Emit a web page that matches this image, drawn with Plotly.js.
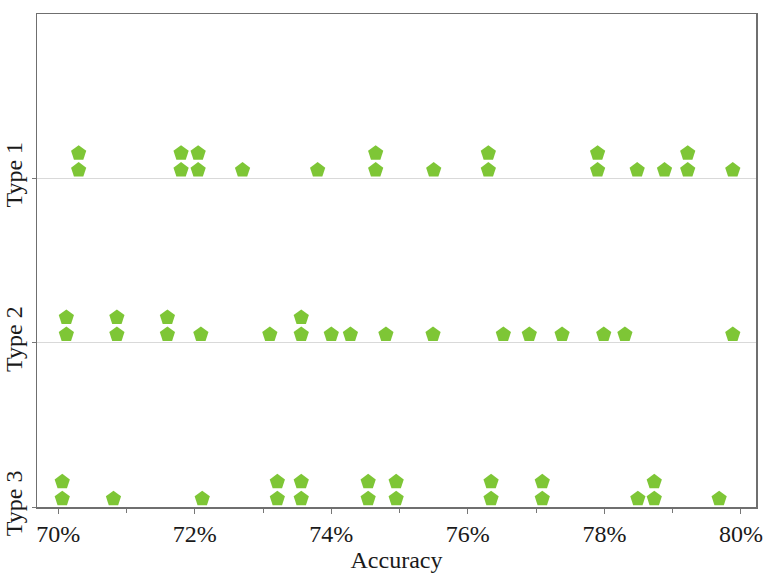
<!DOCTYPE html>
<html>
<head>
<meta charset="utf-8">
<script src="https://cdn.plot.ly/plotly-3.0.1.min.js"></script>
<style>html,body{margin:0;padding:0;background:#fff;}#chart{width:763px;height:577px;}</style>
</head>
<body>
<div id="chart"></div>
<script>
// Category labels (top to bottom)
const categories = ['Type 1', 'Type 2', 'Type 3'];
// Accuracy values (%) per category; repeated values stack
const type1 = [70.3, 70.3, 71.8, 71.8, 72.05, 72.05, 72.7, 73.8, 74.65, 74.65, 75.5, 76.3, 76.3,
               77.9, 77.9, 78.48, 78.88, 79.22, 79.22, 79.88];
const type2 = [70.12, 70.12, 70.86, 70.86, 71.6, 71.6, 72.09, 73.1, 73.56, 73.56, 74.0, 74.28, 74.8,
               75.49, 76.52, 76.9, 77.38, 77.99, 78.3, 79.88];
const type3 = [70.06, 70.06, 70.81, 72.11, 73.21, 73.21, 73.56, 73.56, 74.54, 74.54, 74.95, 74.95,
               76.34, 76.34, 77.09, 77.09, 78.49, 78.73, 78.73, 79.68];
const seriesValues = [type1, type2, type3];
// X tick values and labels
const xTickVals = [70, 72, 74, 76, 78, 80];
const xTickText = ['70%', '72%', '74%', '76%', '78%', '80%'];
const xMinorVals = [71, 73, 75, 77, 79];

const STACK_BASE = 0.05, STACK_STEP = 0.103;
const xs = [], ys = [];
seriesValues.forEach((vals, i) => {
  const level = categories.length - 1 - i; // Type 1 at top
  const counts = {};
  vals.forEach(v => {
    const k = v.toFixed(3);
    counts[k] = (counts[k] || 0);
    xs.push(v);
    ys.push(level + STACK_BASE + STACK_STEP * counts[k]);
    counts[k] += 1;
  });
});

const font = '"Liberation Serif", "Times New Roman", serif';
const data = [{
  type: 'scatter', mode: 'markers', x: xs, y: ys,
  marker: {symbol: 'pentagon', size: 16, color: '#7ec636', line: {width: 0}},
  hoverinfo: 'x'
}];
const layout = {
  width: 763, height: 577,
  margin: {l: 37, r: 7, t: 14, b: 70},
  paper_bgcolor: '#fff', plot_bgcolor: '#fff',
  showlegend: false,
  font: {family: font, size: 24, color: '#1a1a1a'},
  xaxis: {
    range: [69.69, 80.22], tickmode: 'array', tickvals: xTickVals, ticktext: xTickText,
    ticks: 'outside', ticklen: 5, tickcolor: '#777',
    minor: {tickvals: xMinorVals, ticks: 'outside', ticklen: 4, tickcolor: '#777'},
    showgrid: false, zeroline: false,
    showline: true, linecolor: '#6f6f6f', linewidth: 1.5, mirror: true,
    tickfont: {family: font, size: 24, color: '#1a1a1a'},
    title: {text: 'Accuracy', font: {family: font, size: 24, color: '#1a1a1a'}, standoff: 2}
  },
  yaxis: {
    range: [0, 3], tickmode: 'array', tickvals: [2, 1, 0], ticktext: categories, tickangle: -90,
    ticks: 'outside', ticklen: 4, tickcolor: '#777',
    showgrid: true, gridcolor: '#d9d9d9', gridwidth: 1, zeroline: false,
    showline: true, linecolor: '#6f6f6f', linewidth: 1.5, mirror: true,
    tickfont: {family: font, size: 24, color: '#1a1a1a'}
  }
};
Plotly.newPlot('chart', data, layout, {staticPlot: true, displayModeBar: false});
</script>
</body>
</html>
